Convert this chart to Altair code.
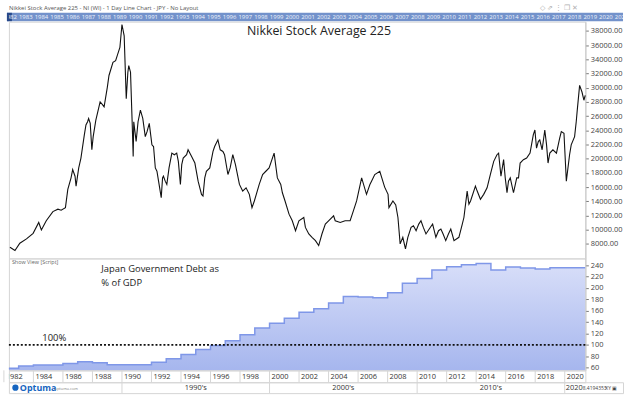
import altair as alt
import pandas as pd

# ---------------- data ----------------
nikkei_year = [1982.41, 1982.75, 1983.08, 1983.53, 1983.98, 1984.36, 1984.54, 1984.87, 1985.32, 1985.66,
               1985.88, 1986.17, 1986.33, 1986.55, 1986.66, 1986.82, 1986.89, 1987.07, 1987.22, 1987.45,
               1987.56, 1987.67, 1987.74, 1987.85, 1987.96, 1988.05, 1988.23, 1988.52, 1988.68, 1988.79,
               1989.01, 1989.12, 1989.39, 1989.57, 1989.68, 1989.86, 1990.0, 1990.15, 1990.29, 1990.40,
               1990.46, 1990.58, 1990.69, 1990.76, 1990.8, 1990.96, 1991.09, 1991.25, 1991.41, 1991.58,
               1991.70, 1991.85, 1992.03, 1992.14, 1992.26, 1992.37, 1992.48, 1992.66, 1992.75, 1992.81,
               1992.93, 1993.04, 1993.19, 1993.38, 1993.55, 1993.71, 1993.82, 1993.96, 1994.05, 1994.15,
               1994.38, 1994.48, 1994.72, 1994.94, 1995.16, 1995.39, 1995.49, 1995.61, 1995.72, 1995.95,
               1996.17, 1996.28, 1996.5, 1996.66, 1996.84, 1996.95, 1997.18, 1997.33, 1997.51, 1997.69,
               1997.96, 1998.18, 1998.41, 1998.63, 1998.81, 1998.97, 1999.3, 1999.53, 1999.75, 1999.97,
               2000.31, 2000.53, 2000.76, 2000.87, 2001.05, 2001.32, 2001.54, 2001.76, 2001.99, 2002.32,
               2002.43, 2002.66, 2002.88, 2003.11, 2003.33, 2003.55, 2003.78, 2004.0, 2004.34, 2004.45,
               2004.79, 2005.12, 2005.46, 2005.68, 2005.9, 2006.24, 2006.57, 2006.8, 2006.91, 2007.13,
               2007.47, 2007.8, 2008.03, 2008.09, 2008.36, 2008.55, 2008.7, 2008.85, 2009.03, 2009.21,
               2009.37, 2009.59, 2009.75, 2009.93, 2010.11, 2010.26, 2010.42, 2010.6, 2010.82, 2011.05,
               2011.27, 2011.45, 2011.61, 2011.76, 2011.94, 2012.12, 2012.28, 2012.5, 2012.83, 2013.06,
               2013.17, 2013.39, 2013.51, 2013.62, 2013.95, 2014.07, 2014.29, 2014.51, 2014.74, 2014.96,
               2015.19, 2015.41, 2015.52, 2015.68, 2015.86, 2015.97, 2016.09, 2016.19, 2016.31, 2016.53,
               2016.75, 2016.87, 2016.98, 2017.2, 2017.42, 2017.65, 2017.87, 2017.98, 2018.09, 2018.21,
               2018.31, 2018.47, 2018.65, 2018.77, 2018.87, 2018.99, 2019.2, 2019.44, 2019.66, 2019.77,
               2019.95, 2020.11, 2020.33, 2020.44, 2020.67, 2020.78, 2020.85, 2021.01, 2021.17, 2021.3,
               2021.39]
nikkei_value = [7533, 7073, 8091, 8705, 9486, 11021, 9960, 11258, 12555, 12890,
                12746, 13113, 15680, 17303, 18470, 17536, 16140, 18698, 20088, 23348,
                24747, 25208, 25668, 24971, 21260, 23115, 25445, 27998, 27626, 27300,
                30091, 31722, 33578, 33811, 34512, 35670, 38900, 37300, 28458, 32183,
                33118, 32183, 25208, 20325, 25208, 22418, 25208, 26840, 25673, 23115,
                23813, 24971, 21953, 21720, 18698, 18233, 16838, 14508, 17303, 17535,
                16838, 16378, 18698, 20786, 20558, 20786, 19628, 16378, 19163, 20088,
                20558, 21260, 20326, 19391, 16838, 14978, 14745, 17303, 18233, 18698,
                21022, 21721, 22655, 21256, 21022, 20558, 17773, 18698, 20563, 19163,
                16378, 15443, 15903, 14978, 13113, 14048, 16378, 17768, 18233, 18698,
                20786, 17298, 16373, 15206, 14048, 12193, 11258, 9863, 11258, 11718,
                10328, 9403, 8933, 8468, 7770, 9398, 10798, 11258, 11955, 11258,
                11021, 11258, 11258, 12653, 14048, 17298, 14983, 16373, 16838, 17768,
                18233, 16000, 14978, 13113, 14048, 13500, 11718, 8008, 8930, 7310,
                8933, 10323, 10561, 9863, 10793, 11258, 10328, 9403, 10096, 10798,
                8930, 9863, 10100, 9398, 8468, 9398, 10100, 8468, 8930, 10793,
                11718, 15443, 13583, 14048, 16140, 15443, 14285, 14978, 15903, 17773,
                19628, 20563, 20786, 17535, 19865, 17303, 15206, 16838, 17298, 15206,
                17303, 17298, 19391, 19861, 20088, 20786, 23353, 24050, 21483, 22418,
                22655, 21256, 24050, 21953, 19391, 20791, 21260, 20786, 22883, 23813,
                23576, 16838, 20563, 21953, 23115, 25208, 26840, 30328, 29393, 28235,
                28933]

debt_year = list(range(1982, 2021))
debt_value = [59, 62.8, 64.5, 64.5, 67.5, 70.4, 68.7, 65.2, 65.2, 65.2,
              69.7, 75.6, 83, 91.8, 98.7, 107.4, 117.8, 129.4, 138, 146.8,
              157.2, 163.5, 173.4, 185, 183.8, 182.6, 191.2, 208.1, 216.3, 231.2,
              237.1, 240.6, 242.8, 231.2, 236.4, 234.7, 232.9, 235.3, 235.3]
threshold = [100]

nikkei_ticks = list(range(8000, 38001, 2000))
debt_ticks = list(range(60, 241, 20))
axis_years = list(range(1982, 2021, 2))
decade_rules = [1990, 2000, 2010, 2020]
decade_mid = [1995, 2005, 2015]
decade_labels = ["1990's", "2000's", "2010's"]
strip_years = list(range(1982, 2022))

X_START, X_END = 1982.34, 2021.40
W = 582
PX_PER_YEAR = W / (X_END - X_START)
FONT = "Open Sans"

xscale = alt.Scale(domain=[X_START, X_END], nice=False, zero=False)
xscale_wide = alt.Scale(domain=[X_START, X_START + 620 / PX_PER_YEAR], nice=False, zero=False)
strip_scale = alt.Scale(domain=[1981.926, 2021.09], nice=False, zero=False)
yA = alt.Scale(domain=[5957, 39297], nice=False, zero=False)
yC = alt.Scale(domain=[55.3, 251.6], nice=False, zero=False)

one = pd.DataFrame({"a": [0]})

# ---------------- navigator strip ----------------
strip_df = pd.DataFrame({"yr": strip_years, "label": [str(y) for y in strip_years]})
band = alt.Chart(one).mark_rect(color="#7392cb").encode(
    x=alt.value(-2), x2=alt.value(620), y=alt.value(10), y2=alt.value(18.5))
handle = alt.Chart(one).mark_rect(color="#27498a").encode(
    x=alt.value(-2), x2=alt.value(3), y=alt.value(10), y2=alt.value(18.5))
strip_labels = alt.Chart(strip_df).mark_text(fontSize=6, font=FONT, color="#eef2fb", clip=True,
                                            baseline="middle").encode(
    x=alt.X("yr:Q", scale=strip_scale, axis=None), y=alt.value(14.2), text="label:N")
header = alt.Chart(one).mark_text(align="left", baseline="middle", fontSize=6, font=FONT,
                                  color="#555555").encode(
    x=alt.value(0), y=alt.value(5),
    text=alt.value("Nikkei Stock Average 225 - NI (WI) - 1 Day Line Chart - JPY - No Layout"))
icons = alt.Chart(one).mark_text(align="left", baseline="middle", fontSize=7, color="#b0b0b0").encode(
    x=alt.value(536), y=alt.value(5), text=alt.value("◇    ⇗    ⋮    ❐    ✕"))
strip = alt.layer(band, handle, strip_labels, header, icons).properties(
    width=620, height=19, view=alt.ViewBackground(stroke="transparent"))

# ---------------- Nikkei panel ----------------
axisA = alt.Axis(orient="right", values=nikkei_ticks, format=".2f", title=None, grid=False,
                 labelFontSize=7.5, labelFont=FONT, labelColor="#444444", tickSize=3,
                 tickColor="#777777", domainColor="#c8c8c8", labelPadding=2)
nik_df = pd.DataFrame({"year": nikkei_year, "value": nikkei_value})
lineA = alt.Chart(nik_df).mark_line(color="#111111", strokeWidth=1.1).encode(
    x=alt.X("year:Q", scale=xscale, axis=None),
    y=alt.Y("value:Q", scale=yA, axis=axisA))
titleA = alt.Chart(pd.DataFrame({"year": [2003.35], "value": [38050],
                                 "t": ["Nikkei Stock Average 225"]})).mark_text(
    fontSize=12.5, font=FONT, color="#222222", baseline="middle").encode(
    x=alt.X("year:Q", scale=xscale, axis=None),
    y=alt.Y("value:Q", scale=yA, axis=axisA), text="t:N")
panelA = alt.layer(lineA, titleA).properties(width=W, height=239)

# ---------------- Debt panel ----------------
axisC = alt.Axis(orient="right", values=debt_ticks, format="d", title=None, grid=False,
                 labelFontSize=7.5, labelFont=FONT, labelColor="#444444", tickSize=3,
                 tickColor="#777777", domainColor="#c8c8c8", labelPadding=2)
debt_df = pd.DataFrame({"year": debt_year + [X_END], "debt": debt_value + [debt_value[-1]]})
grad = alt.Gradient(gradient="linear",
                    stops=[alt.GradientStop(color="#c7d0f6", offset=0),
                           alt.GradientStop(color="#6b86e2", offset=1)],
                    x1=1, x2=1, y1=0, y2=1)
area = alt.Chart(debt_df).mark_area(
    interpolate="step-after", color=grad, clip=True,
    line={"color": "#7f97e8", "strokeWidth": 1.5}).encode(
    x=alt.X("year:Q", scale=xscale, axis=None),
    y=alt.Y("debt:Q", scale=yC, axis=axisC))
rule100 = alt.Chart(pd.DataFrame({"debt": threshold})).mark_rule(
    color="#111111", strokeDash=[2, 2], strokeWidth=1.6).encode(
    y=alt.Y("debt:Q", scale=yC, axis=axisC))
ctext_df = pd.DataFrame({"year": [1988.6, 1988.6, 1984.6],
                         "debt": [233.4, 209.0, 111.8],
                         "t": ["Japan Government Debt as", "% of GDP", "100%"]})
ctext = alt.Chart(ctext_df).mark_text(align="left", baseline="middle", fontSize=9.5, font=FONT,
                                      color="#222222").encode(
    x=alt.X("year:Q", scale=xscale, axis=None),
    y=alt.Y("debt:Q", scale=yC, axis=axisC), text="t:N")
showview = alt.Chart(one).mark_text(align="left", baseline="middle", fontSize=5.5, font=FONT,
                                    color="#666666").encode(
    x=alt.value(3), y=alt.value(3.5), text=alt.value("Show View [Script]"))
panelC = alt.layer(area, rule100, ctext, showview).properties(width=W, height=113)

# ---------------- year axis row ----------------
yr_df = pd.DataFrame({"year": axis_years, "label": [str(y) for y in axis_years]})
yr_ticks = alt.Chart(yr_df).mark_rule(color="#d6d6d6").encode(
    x=alt.X("year:Q", scale=xscale, axis=None), y=alt.value(0), y2=alt.value(12))
yr_labels = alt.Chart(yr_df).mark_text(align="left", baseline="middle", dx=2, fontSize=7.5, font=FONT,
                                       color="#333333", clip=True).encode(
    x=alt.X("year:Q", scale=xscale, axis=None), y=alt.value(6.5), text="label:N")
rowD1 = alt.layer(yr_ticks, yr_labels).properties(width=W, height=12)

# ---------------- decade row ----------------
dec_rule_df = pd.DataFrame({"year": decade_rules})
dec_lab_df = pd.DataFrame({"year": decade_mid, "label": decade_labels})
dec_rules = alt.Chart(dec_rule_df).mark_rule(color="#d6d6d6").encode(
    x=alt.X("year:Q", scale=xscale_wide, axis=None), y=alt.value(0), y2=alt.value(11))
dec_labels = alt.Chart(dec_lab_df).mark_text(baseline="middle", fontSize=7.5, font=FONT,
                                             color="#333333").encode(
    x=alt.X("year:Q", scale=xscale_wide, axis=None), y=alt.value(5.5), text="label:N")
misc_df = pd.DataFrame({"year": [2020.0], "label": ["2020"]})
dec_2020 = alt.Chart(misc_df).mark_text(align="left", baseline="middle", dx=1, fontSize=7.5, font=FONT,
                                        color="#333333").encode(
    x=alt.X("year:Q", scale=xscale_wide, axis=None), y=alt.value(5.5), text="label:N")
status_df = pd.DataFrame({"year": [2021.22, 2022.75], "label": ["8.4194353", "XY ▣"]})
status = alt.Chart(status_df).mark_text(align="left", baseline="middle", fontSize=5, font=FONT,
                                        color="#444444").encode(
    x=alt.X("year:Q", scale=xscale_wide, axis=None), y=alt.value(6), text="label:N")
logo_dot = alt.Chart(pd.DataFrame({"year": [1982.78]})).mark_point(
    filled=True, size=40, color="#1565c0", opacity=1).encode(
    x=alt.X("year:Q", scale=xscale_wide, axis=None), y=alt.value(5.5))
logo_df = pd.DataFrame({"year": [1983.08], "label": ["Optuma"]})
logo = alt.Chart(logo_df).mark_text(align="left", baseline="middle", fontSize=9, font=FONT,
                                     fontWeight="bold", color="#1565c0").encode(
    x=alt.X("year:Q", scale=xscale_wide, axis=None), y=alt.value(5.5), text="label:N")
site_df = pd.DataFrame({"year": [1985.43], "label": ["optuma.com"]})
site = alt.Chart(site_df).mark_text(align="left", baseline="middle", fontSize=4, font=FONT,
                                    color="#888888").encode(
    x=alt.X("year:Q", scale=xscale_wide, axis=None), y=alt.value(6.5), text="label:N")
rowD2 = alt.layer(dec_rules, dec_labels, dec_2020, status, logo_dot, logo, site).properties(
    width=620, height=11)

chart = alt.vconcat(strip, panelA, panelC, rowD1, rowD2, spacing=0, bounds="flush").resolve_scale(
    x="independent", y="independent").properties(
    padding={"left": 2, "top": 0, "right": 0, "bottom": 0}, background="white").configure_view(
    stroke="#d4d4d4").configure_concat(spacing=0)

chart.save("out.html", embed_options={"renderer": "svg", "actions": False})
